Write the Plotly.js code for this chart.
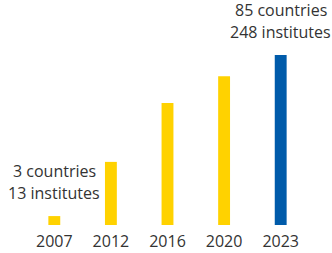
<!DOCTYPE html>
<html><head><meta charset="utf-8">
<script src="https://cdn.plot.ly/plotly-3.0.1.min.js"></script>
<style>html,body{margin:0;padding:0;background:#fff}</style>
</head><body><div id="c" style="width:332px;height:253px"></div>
<script>
const years = ['2007','2012','2016','2020','2023'];
const institutes = [13, 92, 178, 217, 248];
const barColors = ['#FFD200','#FFD200','#FFD200','#FFD200','#005BAA'];
const labelYears = ['2007','2023'];
const countryLabels = ['3 countries','85 countries'];
const instituteLabels = ['13 institutes','248 institutes'];

const font = {family:'Open Sans, Noto Sans, sans-serif', size:16, color:'#333333'};
const annotations = [];
labelYears.forEach((y,i)=>{
  const idx = years.indexOf(y);
  const v = institutes[idx];
  annotations.push({x:idx, y:v, xref:'x', yref:'y', text:instituteLabels[i], showarrow:false, yanchor:'middle', yshift:23, font:font});
  annotations.push({x:idx, y:v, xref:'x', yref:'y', text:countryLabels[i], showarrow:false, yanchor:'middle', yshift:45, font:font});
});

Plotly.newPlot('c', [{
  type:'bar', x:years, y:institutes, marker:{color:barColors}, width:0.21, hoverinfo:'none'
}], {
  width:332, height:253,
  margin:{l:25.6, r:22.6, t:0, b:28, pad:0},
  paper_bgcolor:'#fff', plot_bgcolor:'#fff',
  showlegend:false,
  font:font,
  xaxis:{type:'category', range:[-0.5,4.5], autorange:false, showgrid:false, zeroline:false, showline:false,
         ticks:'outside', ticklen:2, tickcolor:'rgba(0,0,0,0)', tickfont:font},
  yaxis:{range:[0,328], visible:false, showgrid:false, zeroline:false},
  annotations:annotations
}, {staticPlot:true, displayModeBar:false});
</script></body></html>
